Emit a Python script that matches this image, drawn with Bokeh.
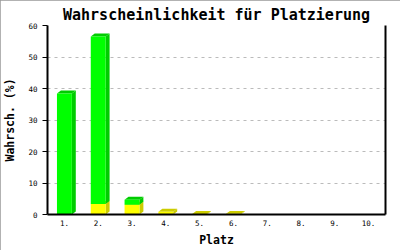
from bokeh.plotting import figure
from bokeh.models import Range1d, LinearAxis, FixedTicker
from bokeh.embed import file_html
from bokeh.resources import INLINE

# data
places = ["1.", "2.", "3.", "4.", "5.", "6.", "7.", "8.", "9.", "10."]
yellow = [0.0, 3.3, 3.1, 0.85, 0.15, 0.2, 0.0, 0.0, 0.0, 0.0]
green = [38.4, 53.2, 1.6, 0.0, 0.0, 0.0, 0.0, 0.0, 0.0, 0.0]
y_ticks = [0, 10, 20, 30, 40, 50, 60]

FONT = "DejaVu Sans Mono"
W = 0.44      # front face width (category units)
DX = 0.117    # 3d depth, x (category units)
DY = 0.95     # 3d depth, y (value units)

p = figure(width=400, height=250, output_backend="svg", toolbar_location=None,
           x_range=Range1d(0.5, 10.5), y_range=Range1d(0, 60),
           min_border_left=43, min_border_right=15, min_border_top=25, min_border_bottom=36)
p.background_fill_color = "white"
p.border_fill_color = "white"
p.outline_line_color = None
p.styles = {"outline": "1px solid #999999", "outline-offset": "-1px"}

p.title.text = "Wahrscheinlichkeit für Platzierung"
p.title.text_font = FONT
p.title.text_font_size = "15px"
p.title.text_font_style = "bold"
p.title.text_color = "black"
p.title.align = "center"
p.title.offset = 0
p.title.standoff = 4

def draw_segment(xs, bottoms, tops, front, dark):
    sx, sy, tx, ty, fx, fb, ft = [], [], [], [], [], [], []
    for x, b, t in zip(xs, bottoms, tops):
        if t - b <= 0:
            continue
        l, r = x - W / 2, x + W / 2
        sx.append([r, r + DX, r + DX, r])
        sy.append([b, b + DY, t + DY, t])
        tx.append([l, l + DX, r + DX, r])
        ty.append([t, t + DY, t + DY, t])
        fx.append(x); fb.append(b); ft.append(t)
    p.patches(sx, sy, fill_color=dark, line_color=None)
    p.patches(tx, ty, fill_color=dark, line_color=None)
    p.vbar(x=fx, bottom=fb, top=ft, width=W, fill_color=front, line_color=None)

xs = list(range(1, len(places) + 1))
ytop = yellow
gtop = [a + b for a, b in zip(yellow, green)]
draw_segment(xs, [0] * len(xs), ytop, "#ffff00", "#cccc00")
draw_segment(xs, ytop, gtop, "#00ff00", "#00cc00")

# axes
xa = p.xaxis[0]
xa.ticker = FixedTicker(ticks=xs)
xa.major_label_overrides = {i + 1: s for i, s in enumerate(places)}
xa.axis_label = "Platz"
ya = p.yaxis[0]
ya.ticker = FixedTicker(ticks=y_ticks)
ya.axis_label = "Wahrsch. (%)"

for ax in (xa, ya):
    ax.axis_line_color = "black"
    ax.axis_line_width = 2
    ax.minor_tick_line_color = None
    ax.minor_tick_out = 0
    ax.minor_tick_in = 0
    ax.major_label_text_font = FONT
    ax.major_label_text_font_size = "7.5px"
    ax.major_label_text_color = "black"
    ax.axis_label_text_font = FONT
    ax.axis_label_text_font_size = "11.5px"
    ax.axis_label_text_font_style = "bold"
    ax.axis_label_text_color = "black"

xa.major_tick_line_color = None
xa.major_tick_out = 0
xa.major_tick_in = 0
xa.major_label_standoff = 5
xa.axis_label_standoff = 4
ya.major_tick_in = 0
ya.major_tick_out = 5
ya.major_tick_line_color = "black"
ya.major_tick_line_width = 1
ya.major_label_standoff = 5
ya.axis_label_standoff = 8

ra = LinearAxis(ticker=FixedTicker(ticks=[]), axis_line_color="black", axis_line_width=2,
                major_tick_line_color=None, minor_tick_line_color=None,
                major_tick_out=0, major_tick_in=0, minor_tick_out=0, minor_tick_in=0,
                major_label_standoff=0, major_label_text_font_size="0px")
p.add_layout(ra, "right")

p.xgrid.grid_line_color = None
p.ygrid.ticker = FixedTicker(ticks=y_ticks)
p.ygrid.grid_line_color = "#bbbbbb"
p.ygrid.grid_line_dash = "3 4"
p.ygrid.grid_line_width = 1

open("out.html", "w").write(file_html(p, INLINE))
